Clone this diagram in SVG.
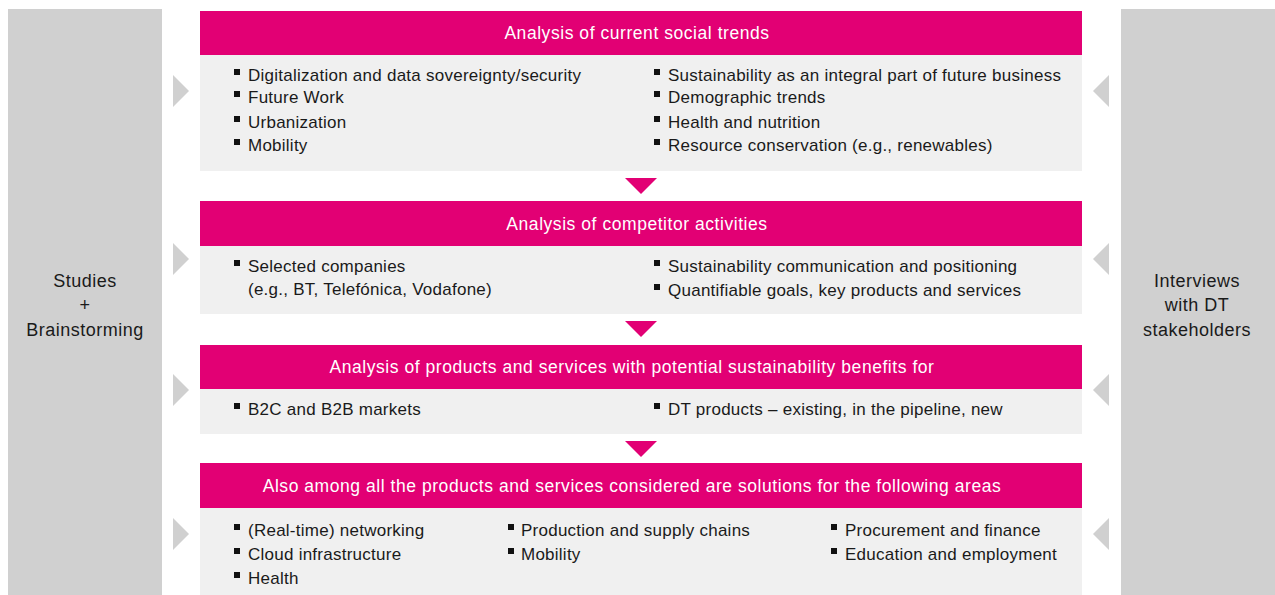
<svg xmlns="http://www.w3.org/2000/svg" width="1275" height="595" viewBox="0 0 1275 595">
<style>
.side{fill:#d0d0d0}
.hdr{fill:#e20074}
.body{fill:#f0f0f0}
.tri{fill:#d0d0d0}
.down{fill:#e20074}
text{font-family:"Liberation Sans",Arial,sans-serif;font-size:17px;letter-spacing:0.25px;fill:#1a1a1a}
.ht{fill:#ffffff;font-size:17.5px;letter-spacing:0.55px;text-anchor:middle}
.st{font-size:18px;letter-spacing:0.5px;text-anchor:middle}
.b{fill:#111}
</style>
<defs>
<rect id="bul" class="b" width="6" height="6"/>
<polygon id="rt" class="tri" points="0,0 16,16 0,32"/>
<polygon id="lt" class="tri" points="16,0 0,16 16,32"/>
<polygon id="dn" class="down" points="0,0 32,0 16,16"/>
</defs>
<rect width="1275" height="595" fill="#ffffff"/>
<g id="left-panel">
<rect class="side" x="8" y="9" width="154" height="586"/>
<text class="st" x="85" y="287">Studies</text>
<text class="st" x="85" y="311">+</text>
<text class="st" x="85" y="336">Brainstorming</text>
</g>
<g id="right-panel">
<rect class="side" x="1121" y="9" width="154" height="586"/>
<text class="st" x="1197" y="287">Interviews</text>
<text class="st" x="1197" y="311">with DT</text>
<text class="st" x="1197" y="336">stakeholders</text>
</g>
<g id="box1">
<rect class="hdr" x="200" y="11" width="882" height="44"/>
<rect class="body" x="200" y="55" width="882" height="116"/>
<text class="ht" x="637" y="39">Analysis of current social trends</text>
<use href="#bul" x="234" y="69"/><text x="248" y="81">Digitalization and data sovereignty/security</text>
<use href="#bul" x="234" y="91"/><text x="248" y="103">Future Work</text>
<use href="#bul" x="234" y="116"/><text x="248" y="128">Urbanization</text>
<use href="#bul" x="234" y="139"/><text x="248" y="151">Mobility</text>
<use href="#bul" x="654" y="69"/><text x="668" y="81">Sustainability as an integral part of future business</text>
<use href="#bul" x="654" y="91"/><text x="668" y="103">Demographic trends</text>
<use href="#bul" x="654" y="116"/><text x="668" y="128">Health and nutrition</text>
<use href="#bul" x="654" y="139"/><text x="668" y="151">Resource conservation (e.g., renewables)</text>
</g>
<g id="box2">
<rect class="hdr" x="200" y="201" width="882" height="45"/>
<rect class="body" x="200" y="246" width="882" height="68"/>
<text class="ht" x="637" y="230">Analysis of competitor activities</text>
<use href="#bul" x="234" y="260"/><text x="248" y="272">Selected companies</text>
<text x="248" y="295">(e.g., BT, Telefónica, Vodafone)</text>
<use href="#bul" x="654" y="260"/><text x="668" y="272">Sustainability communication and positioning</text>
<use href="#bul" x="654" y="284"/><text x="668" y="296">Quantifiable goals, key products and services</text>
</g>
<g id="box3">
<rect class="hdr" x="200" y="345" width="882" height="44"/>
<rect class="body" x="200" y="389" width="882" height="45"/>
<text class="ht" x="632" y="373">Analysis of products and services with potential sustainability benefits for</text>
<use href="#bul" x="234" y="403"/><text x="248" y="415">B2C and B2B markets</text>
<use href="#bul" x="654" y="403"/><text x="668" y="415">DT products – existing, in the pipeline, new</text>
</g>
<g id="box4">
<rect class="hdr" x="200" y="463" width="882" height="45"/>
<rect class="body" x="200" y="508" width="882" height="87"/>
<text class="ht" x="632" y="492">Also among all the products and services considered are solutions for the following areas</text>
<use href="#bul" x="234" y="524"/><text x="248" y="536">(Real-time) networking</text>
<use href="#bul" x="234" y="548"/><text x="248" y="560">Cloud infrastructure</text>
<use href="#bul" x="234" y="572"/><text x="248" y="584">Health</text>
<use href="#bul" x="508" y="524"/><text x="521" y="536">Production and supply chains</text>
<use href="#bul" x="508" y="548"/><text x="521" y="560">Mobility</text>
<use href="#bul" x="831" y="524"/><text x="845" y="536">Procurement and finance</text>
<use href="#bul" x="831" y="548"/><text x="845" y="560">Education and employment</text>
</g>
<g id="connectors">
<use href="#dn" x="625" y="178"/>
<use href="#dn" x="625" y="321"/>
<use href="#dn" x="625" y="441"/>
<use href="#rt" x="173" y="75"/>
<use href="#rt" x="173" y="243"/>
<use href="#rt" x="173" y="374"/>
<use href="#rt" x="173" y="518"/>
<use href="#lt" x="1093" y="75"/>
<use href="#lt" x="1093" y="243"/>
<use href="#lt" x="1093" y="374"/>
<use href="#lt" x="1093" y="518"/>
</g>
</svg>
